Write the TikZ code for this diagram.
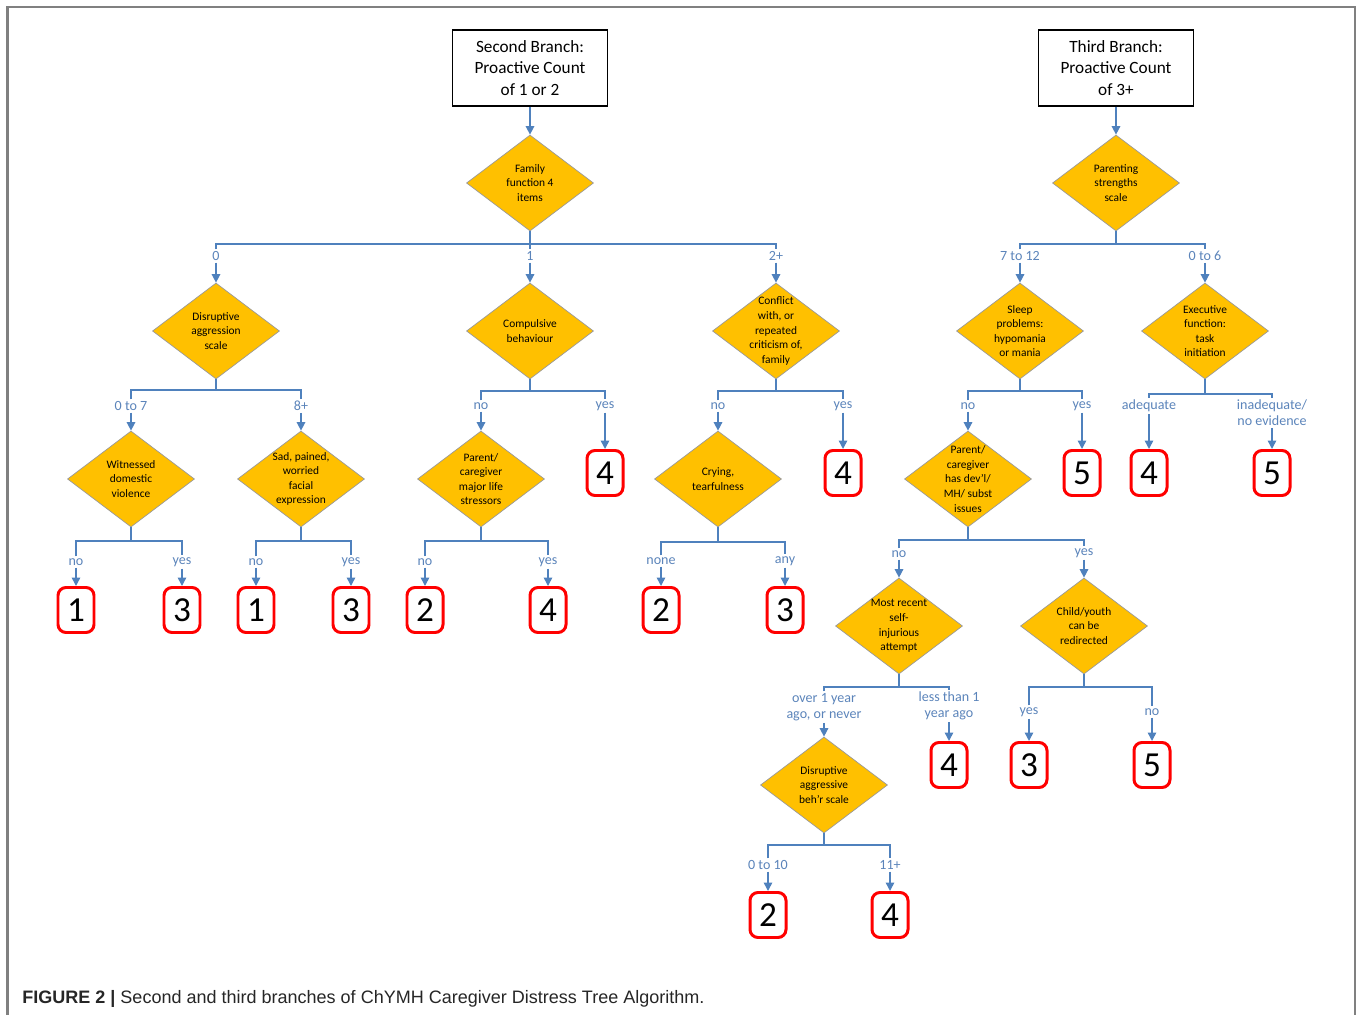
\documentclass[tikz,border=0pt]{standalone}
\usepackage{fontspec}
\setmainfont{Carlito}
\newfontfamily\capfont{Liberation Sans}
\usetikzlibrary{shapes.geometric,arrows.meta}
\definecolor{linkblue}{HTML}{4F81BD}
\definecolor{labblue}{HTML}{5B84BA}
\definecolor{gold}{HTML}{FFC000}
\tikzset{
  dec/.style={diamond, draw=gray!80, line width=0.4pt, fill=gold, minimum width=25.4mm, minimum height=19.2mm, inner sep=0pt},
  dtxt/.style={align=center, inner sep=0pt, font=\fontsize{6.5}{8.3}\selectfont},
  head/.style={draw, line width=0.6pt, minimum width=31mm, minimum height=15.2mm, align=center, font=\fontsize{9.8}{12}\selectfont},
  score/.style={draw=red, line width=1.7pt, rounded corners=1.6mm, minimum width=7.2mm, minimum height=9mm, inner sep=0pt, font=\fontsize{20}{20}\selectfont},
  lab/.style={text=labblue, align=center, inner sep=1pt, font=\fontsize{8}{9}\selectfont},
  link/.style={draw=linkblue, line width=0.85pt},
}

\begin{document}
\begin{tikzpicture}[x=0.2mm, y=-0.2mm, >={Triangle[width=1.7mm,length=1.7mm]}]
\useasboundingbox (0,0) rectangle (1357,1015);
% frame
\draw [gray, line width=1.2pt] (7.5,1015) -- (7.5,7) -- (1355,7) -- (1355,1015);

% headers
\node [head] (h2) at (530,68) {Second Branch:\\Proactive Count\\of 1 or 2};
\node [head] (h3) at (1116,68) {Third Branch:\\Proactive Count\\of 3+};

% questions
\node [dec, label={[dtxt]center:{Family\\function 4\\items}}] (ff) at (530,183) {};
\node [dec, label={[dtxt]center:{Parenting\\strengths\\scale}}] (ps) at (1116,183) {};
\node [dec, label={[dtxt]center:{Disruptive\\aggression\\scale}}] (da) at (216,331) {};
\node [dec, label={[dtxt]center:{Compulsive\\behaviour}}] (cb) at (530,331) {};
\node [dec, label={[dtxt]center:{Conflict\\with, or\\repeated\\criticism of,\\family}}] (cf) at (776,331) {};
\node [dec, label={[dtxt]center:{Sleep\\problems:\\hypomania\\or mania}}] (sp) at (1020,331) {};
\node [dec, label={[dtxt]center:{Executive\\function:\\task\\initiation}}] (ef) at (1205,331) {};
\node [dec, label={[dtxt]center:{Witnessed\\domestic\\violence}}] (wd) at (131,479) {};
\node [dec, label={[dtxt]center:{Sad, pained,\\worried\\facial\\expression}}] (sf) at (301,479) {};
\node [dec, label={[dtxt]center:{Parent/\\caregiver\\major life\\stressors}}] (pm) at (481,479) {};
\node [dec, label={[dtxt]center:{Crying,\\tearfulness}}] (ct) at (718,479) {};
\node [dec, label={[dtxt]center:{Parent/\\caregiver\\has dev'l/\\MH/ subst\\issues}}] (pd) at (968,479) {};
\node [dec, label={[dtxt]center:{Most recent\\self-\\injurious\\attempt}}] (mr) at (899,626) {};
\node [dec, label={[dtxt]center:{Child/youth\\can be\\redirected}}] (cy) at (1084,626) {};
\node [dec, label={[dtxt]center:{Disruptive\\aggressive\\beh'r scale}}] (dg) at (824,785) {};

% scores
\node [score] (cb-4) at (605,473) {4};
\node [score] (cf-4) at (843,473) {4};
\node [score] (sp-5) at (1082,473) {5};
\node [score] (ef-4) at (1149,473) {4};
\node [score] (ef-5) at (1272,473) {5};
\node [score] (wd-1) at (76,610) {1};
\node [score] (wd-3) at (182,610) {3};
\node [score] (sf-1) at (256,610) {1};
\node [score] (sf-3) at (351,610) {3};
\node [score] (pm-2) at (425,610) {2};
\node [score] (pm-4) at (548,610) {4};
\node [score] (ct-2) at (661,610) {2};
\node [score] (ct-3) at (785,610) {3};
\node [score] (mr-4) at (949,765) {4};
\node [score] (cy-3) at (1029,765) {3};
\node [score] (cy-5) at (1152,765) {5};
\node [score] (dg-2) at (768,915) {2};
\node [score] (dg-4) at (890,915) {4};

% branch labels
\node [lab] (ff-l) at (216,256) {0};
\node [lab] (ff-m) at (530,256) {1};
\node [lab] (ff-r) at (776,256) {2+};
\node [lab] (ps-l) at (1020,256) {7 to 12};
\node [lab] (ps-r) at (1205,256) {0 to 6};
\node [lab] (da-l) at (131,406) {0 to 7};
\node [lab] (da-r) at (301,406) {8+};
\node [lab] (cb-l) at (481,406) {no};
\node [lab] (cb-r) at (605,406) {yes};
\node [lab] (cf-l) at (718,406) {no};
\node [lab] (cf-r) at (843,406) {yes};
\node [lab] (sp-l) at (968,406) {no};
\node [lab] (sp-r) at (1082,406) {yes};
\node [lab] (ef-l) at (1149,406) {adequate};
\node [lab] (ef-r) at (1272,413) {inadequate/\\no evidence};
\node [lab] (wd-l) at (76,562) {no};
\node [lab] (wd-r) at (182,562) {yes};
\node [lab] (sf-l) at (256,562) {no};
\node [lab] (sf-r) at (351,562) {yes};
\node [lab] (pm-l) at (425,562) {no};
\node [lab] (pm-r) at (548,562) {yes};
\node [lab] (ct-l) at (661,561) {none};
\node [lab] (ct-r) at (785,561) {any};
\node [lab] (pd-l) at (899,554) {no};
\node [lab] (pd-r) at (1084,553) {yes};
\node [lab] (mr-l) at (824,707) {over 1 year\\ago, or never};
\node [lab] (mr-r) at (949,706) {less than 1\\year ago};
\node [lab] (cy-l) at (1029,712) {yes};
\node [lab] (cy-r) at (1152,712) {no};
\node [lab] (dg-l) at (768,865) {0 to 10};
\node [lab] (dg-r) at (890,865) {11+};

% fork bars
\coordinate (ff-bar) at (530,244);
\coordinate (ps-bar) at (1116,244);
\coordinate (da-bar) at (216,390);
\coordinate (cb-bar) at (530,391);
\coordinate (cf-bar) at (776,391);
\coordinate (sp-bar) at (1020,391);
\coordinate (ef-bar) at (1205,394);
\coordinate (wd-bar) at (131,541);
\coordinate (sf-bar) at (301,541);
\coordinate (pm-bar) at (481,541);
\coordinate (ct-bar) at (718,542);
\coordinate (pd-bar) at (968,540);
\coordinate (mr-bar) at (899,687);
\coordinate (cy-bar) at (1084,687);
\coordinate (dg-bar) at (824,845);

\draw [link] (ff) -- (ff-m.north) (ff-l.north) |- (ff-bar) -| (ff-r.north);
\foreach \p in {ps,da,cb,cf,sp,ef,wd,sf,pm,ct,pd,mr,cy,dg}
  \draw [link] (\p) -- (\p-bar) (\p-l.north) |- (\p-bar) -| (\p-r.north);

% arrows
\draw [link, ->] (h2) -- (ff);
\draw [link, ->] (h3) -- (ps);
\foreach \a/\b in {ff-l/da, ff-m/cb, ff-r/cf, ps-l/sp, ps-r/ef, da-l/wd, da-r/sf,
    cb-l/pm, cb-r/cb-4, cf-l/ct, cf-r/cf-4, sp-l/pd, sp-r/sp-5, ef-l/ef-4, ef-r/ef-5,
    wd-l/wd-1, wd-r/wd-3, sf-l/sf-1, sf-r/sf-3, pm-l/pm-2, pm-r/pm-4, ct-l/ct-2, ct-r/ct-3,
    pd-l/mr, pd-r/cy, mr-l/dg, mr-r/mr-4, cy-l/cy-3, cy-r/cy-5, dg-l/dg-2, dg-r/dg-4}
  \draw [link, ->] (\a) -- (\b);

% caption
\node [anchor=base west, inner sep=0pt, text=black!85, font=\capfont\fontsize{10.25}{12}\selectfont] (cap) at (22,1003)
  {\textbf{FIGURE 2 |} Second and third branches of ChYMH Caregiver Distress Tree Algorithm.};
\end{tikzpicture}
\end{document}
